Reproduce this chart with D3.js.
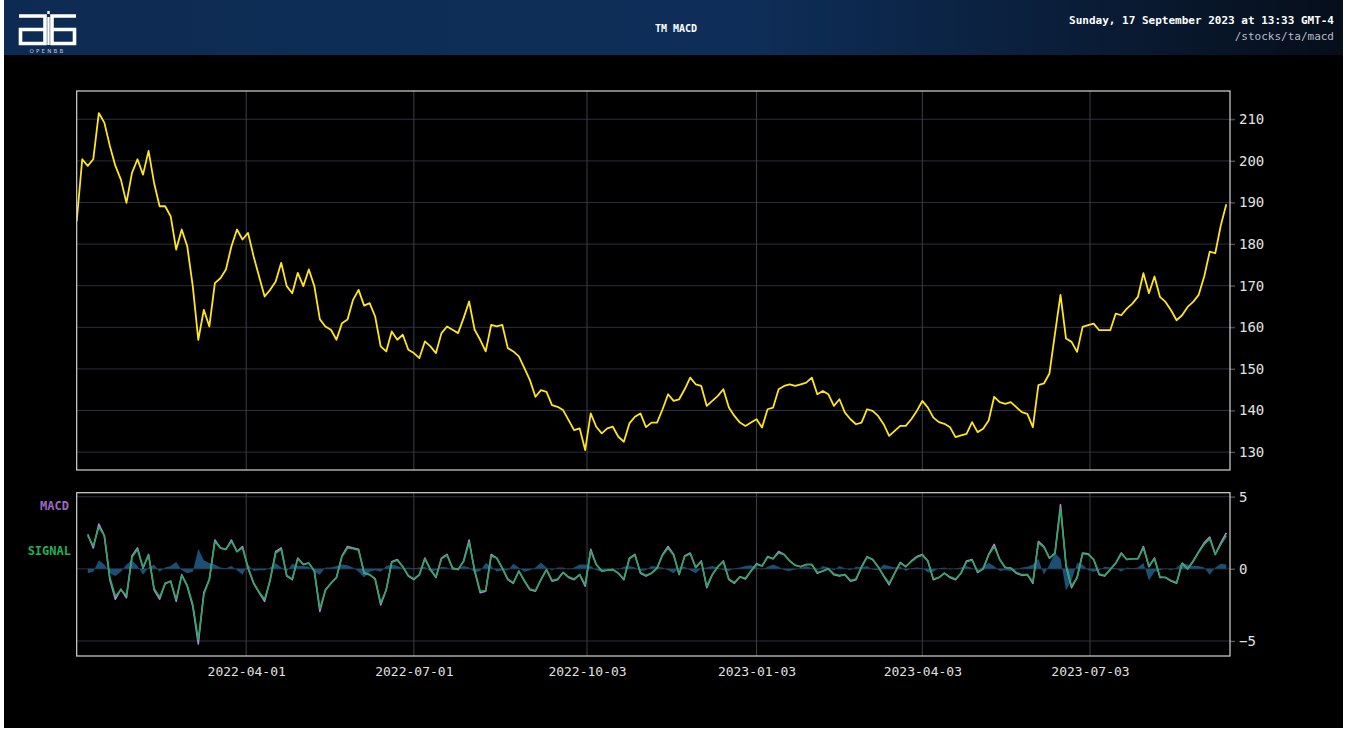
<!DOCTYPE html>
<html><head><meta charset="utf-8">
<script src="https://cdn.jsdelivr.net/npm/d3@7"></script>
<style>body{margin:0;background:#fff;} svg{display:block;}</style>
</head><body>
<svg id="c" width="1347" height="732"></svg>
<script>
// ---------- data ----------
const chartTitle = "TM MACD";
const dateLine = "Sunday, 17 September 2023 at 13:33 GMT-4";
const pathLine = "/stocks/ta/macd";
const priceStart = "2021-12-30";
const macdStart = "2022-01-05";
const stepDays = 3;
const xDomain = ["2021-12-30", "2023-09-17"];
const dateTicks = ["2022-04-01", "2022-07-01", "2022-10-03", "2023-01-03", "2023-04-03", "2023-07-03"];
const priceTicks = [130, 140, 150, 160, 170, 180, 190, 200, 210];
const macdTicks = [-5, 0, 5];
const legendLabels = ["MACD", "SIGNAL"];

const price = [
185.5,200.4,198.8,200.4,211.5,209.2,203.6,198.8,195.5,189.9,
197.1,200.4,196.7,202.4,194.7,189.1,189.1,186.7,178.7,183.5,
179.5,169.9,157.0,164.2,160.2,170.6,171.8,173.9,179.5,183.5,
181.1,182.7,177.1,172.2,167.4,169.0,171.0,175.5,169.9,168.2,
173.1,169.9,173.9,169.9,161.9,160.2,159.4,157.0,161.0,161.9,
166.6,169.0,165.2,165.8,162.6,155.4,154.2,159.0,157.0,158.2,
154.6,153.8,152.6,156.6,155.4,153.8,158.6,160.2,159.4,158.6,
162.2,166.2,159.4,157.0,154.2,160.6,160.2,160.6,155.0,154.2,
153.0,150.2,147.3,143.3,144.9,144.5,141.3,140.9,140.1,137.7,
135.3,135.7,130.5,139.3,136.1,134.5,135.7,136.1,133.7,132.5,
136.9,138.5,139.3,136.0,137.1,137.1,140.3,143.9,142.3,142.7,
145.1,147.9,146.3,145.9,141.1,142.3,143.5,145.1,140.7,138.7,
137.1,136.3,137.1,137.9,135.9,140.3,140.7,145.1,145.9,146.3,
145.9,146.3,146.7,147.9,143.9,144.7,143.9,141.1,142.7,139.5,
137.9,136.7,137.1,140.3,139.9,138.7,136.7,133.9,135.1,136.3,
136.3,137.9,139.9,142.3,140.7,138.3,137.2,136.8,136.0,133.6,
134.0,134.4,137.2,134.8,135.6,137.6,143.3,142.0,141.6,142.0,
140.8,139.6,139.2,136.0,146.1,146.5,148.9,158.5,167.8,157.3,
156.5,154.1,160.1,160.5,160.9,159.3,159.3,159.3,163.3,162.9,
164.5,165.7,167.3,173.0,168.2,172.2,167.3,166.1,164.1,161.7,
162.9,164.9,166.1,167.8,172.2,178.2,177.8,184.5,189.6
];

const macd = [
2.4,1.45,3.1,2.3,-0.75,-2.1,-1.4,-2.0,0.9,1.45,
0.05,1.0,-1.45,-2.1,-1.0,-0.85,-2.25,-0.4,-1.2,-2.6,
-5.2,-1.65,-0.75,2.0,1.45,1.35,2.0,1.2,1.55,0.05,
-1.0,-1.65,-2.25,-0.75,1.2,1.45,-0.5,-0.75,0.75,0.3,
0.4,-0.15,-2.95,-1.45,-1.0,-0.6,0.9,1.55,1.45,1.35,
-0.3,-0.4,-0.7,-2.5,-1.45,0.5,0.65,0.15,-0.5,-0.75,
-0.4,0.75,-0.05,-0.6,0.75,1.0,0.05,-0.05,0.55,2.0,
-0.15,-1.65,-1.55,1.0,0.75,0.05,-0.75,-1.0,-0.15,-0.85,
-1.45,-1.55,-0.75,-0.05,-0.85,-0.75,-0.25,-0.6,-0.75,-0.4,
-1.2,1.35,0.3,-0.15,-0.1,-0.05,-0.3,-0.75,0.75,1.0,
-0.3,-0.5,-0.3,0.05,1.0,1.55,1.0,-0.4,0.9,1.1,
0.1,0.55,-1.3,-0.4,0.15,0.55,-0.75,-1.0,-0.55,-0.7,
-0.15,0.35,0.2,0.85,0.7,1.2,1.0,0.55,0.25,0.15,
0.3,0.3,-0.3,-0.15,0,-0.4,-0.5,-0.4,-0.85,-0.75,
0.15,0.85,0.65,0.15,-0.5,-1.1,-0.3,0.45,0.15,0.55,
0.85,1.0,0.55,-0.75,-0.6,-0.3,-0.6,-0.75,-0.3,0.55,
0.65,-0.25,0,1.0,1.7,0.65,0.1,0.05,-0.3,-0.45,
-0.4,-1.0,1.9,1.55,0.75,1.1,4.45,0.2,-1.3,-0.6,
1.1,1.05,0.65,-0.4,-0.5,-0.05,0.4,1.1,0.65,0.7,
0.7,1.55,0.15,0.75,-0.6,-0.6,-0.85,-1.0,0.4,0,
0.55,1.2,1.8,2.2,1.0,1.8,2.5
];

const signal = [
2.3,1.6,2.9,2.3,-0.6,-1.9,-1.45,-1.85,0.8,1.35,
0.1,0.95,-1.35,-1.95,-1.05,-0.85,-2.1,-0.45,-1.15,-2.45,
-4.9,-1.8,-0.7,1.9,1.45,1.35,1.9,1.2,1.45,0.1,
-0.95,-1.6,-2.1,-0.8,1.1,1.35,-0.45,-0.7,0.7,0.3,
0.4,-0.15,-2.75,-1.5,-1.0,-0.6,0.85,1.45,1.4,1.3,
-0.25,-0.4,-0.7,-2.35,-1.45,0.45,0.6,0.15,-0.45,-0.7,
-0.4,0.7,-0.05,-0.55,0.7,0.95,0.05,-0.05,0.5,1.85,
-0.1,-1.55,-1.5,0.9,0.75,0.05,-0.7,-0.95,-0.15,-0.8,
-1.4,-1.5,-0.75,-0.05,-0.8,-0.7,-0.25,-0.55,-0.7,-0.4,
-1.1,1.25,0.3,-0.15,-0.1,-0.05,-0.3,-0.7,0.7,0.95,
-0.25,-0.45,-0.3,0.05,0.95,1.45,0.95,-0.35,0.85,1.05,
0.1,0.5,-1.2,-0.4,0.15,0.5,-0.7,-0.95,-0.55,-0.65,
-0.15,0.3,0.2,0.8,0.7,1.1,1.0,0.55,0.25,0.15,
0.3,0.3,-0.25,-0.15,0,-0.35,-0.45,-0.4,-0.8,-0.7,
0.1,0.8,0.65,0.15,-0.45,-1.0,-0.3,0.4,0.15,0.5,
0.8,0.95,0.55,-0.7,-0.6,-0.3,-0.55,-0.7,-0.3,0.5,
0.6,-0.2,0,0.95,1.55,0.65,0.1,0.05,-0.25,-0.4,
-0.4,-0.9,1.8,1.5,0.75,1.05,4.2,0.3,-1.2,-0.6,
1.05,1.0,0.65,-0.35,-0.45,-0.05,0.4,1.05,0.65,0.7,
0.7,1.45,0.2,0.7,-0.55,-0.6,-0.8,-0.95,0.35,0,
0.5,1.15,1.7,2.1,1.0,1.7,2.3
];

const hist = [
-0.3,-0.2,0.6,0.3,-0.3,-0.5,-0.2,0.3,0.6,0.2,
-0.4,0.1,0.3,-0.2,0.1,0.2,0.5,-0.1,-0.3,-0.2,
1.4,0.6,0.4,0.3,0.1,0.05,0.2,-0.1,-0.4,0.3,
-0.15,-0.1,-0.1,0.1,0.4,0.1,-0.2,0.35,0.2,0.2,
0.15,-0.2,-0.4,0.1,0.1,0.2,0.3,0.25,0.1,-0.2,
-0.6,-0.2,-0.1,-0.2,0.2,0.3,0.2,0.05,0.1,0.05,
0.1,0.15,-0.2,-0.1,0.15,0.1,-0.1,0.05,0.2,0.1,
-0.25,-0.15,0.4,0.2,-0.2,-0.1,-0.1,0.35,0.1,-0.2,
-0.1,0.1,0.45,0.1,-0.1,0.1,0.1,-0.05,0.1,0.3,
0.3,0.2,-0.1,-0.2,0.05,0.05,-0.05,0.15,0.2,0.1,
-0.15,-0.1,0.2,0.15,0.1,-0.1,-0.3,0.1,0.15,-0.1,
-0.3,0.05,0.1,0.2,0.1,-0.1,-0.15,0.05,0.1,0.2,
0.25,0.1,-0.05,0.15,0.3,0.15,-0.1,-0.15,-0.05,0.05,
0.2,0.05,-0.1,0.2,0.1,-0.1,0.2,0.05,-0.1,0.15,
0.1,0.2,-0.05,-0.1,0.3,0.2,0.1,0.15,-0.15,0.05,
0.1,0.05,-0.25,-0.2,0.05,0.1,-0.05,0.05,0.1,0.2,
0.05,-0.1,0.15,0.4,0.2,-0.15,-0.1,-0.15,-0.05,0.1,
0.15,0.3,0.7,-0.4,0.3,1.1,0.7,-1.5,-0.8,0.4,
0.3,-0.1,-0.2,-0.1,0.15,0.1,0.05,-0.2,0.1,0.05,
0.1,0.4,-0.8,-0.2,-0.1,0.05,-0.1,0.1,0.4,0.3,
0.2,0.2,0.1,-0.4,0.1,0.35,0.3
];

// ---------- layout ----------
const W = 1347, H = 732;
const plotL = 76.7, plotR = 1230;
const priceTop = 91, priceBot = 470;
const macdTop = 492.7, macdBot = 656;

const parse = d3.utcParse("%Y-%m-%d");
const svg = d3.select("#c");

svg.append("rect").attr("x", 0).attr("y", 0).attr("width", W).attr("height", H).attr("fill", "#ffffff");
svg.append("rect").attr("x", 4).attr("y", 0).attr("width", W - 8).attr("height", H - 4).attr("fill", "#000000");

// header
const defs = svg.append("defs");
const grad = defs.append("linearGradient").attr("id", "hdr").attr("x1", "0").attr("x2", "1").attr("y1", "0").attr("y2", "0");
grad.append("stop").attr("offset", "0%").attr("stop-color", "#0d2b52");
grad.append("stop").attr("offset", "55%").attr("stop-color", "#0e2e59");
grad.append("stop").attr("offset", "80%").attr("stop-color", "#0a1d38");
grad.append("stop").attr("offset", "100%").attr("stop-color", "#060e1a");
svg.append("rect").attr("x", 4).attr("y", 0).attr("width", W - 8).attr("height", 55).attr("fill", "url(#hdr)");

// logo
const logo = svg.append("g").attr("fill", "none").attr("stroke", "#ffffff").attr("stroke-width", 3.6);
logo.append("path").attr("d", "M19,16 H45 V43.5 H20.5 V29.5 H45");
logo.append("path").attr("d", "M76,16 H52 V43.5 H74.5 V29.5 H52");
svg.append("rect").attr("x", 47.3).attr("y", 11).attr("width", 2.4).attr("height", 3).attr("fill", "#ffffff");
svg.append("rect").attr("x", 47.3).attr("y", 17).attr("width", 2.4).attr("height", 28).attr("fill", "#ffffff");
svg.append("text").attr("x", 47.5).attr("y", 53).attr("text-anchor", "middle")
  .attr("font-family", "DejaVu Sans").attr("font-size", 5.5).attr("letter-spacing", 2.2)
  .attr("fill", "#c8ced8").text("OPENBB");

svg.append("text").attr("x", 676).attr("y", 32).attr("text-anchor", "middle")
  .attr("font-family", "DejaVu Sans Mono").attr("font-weight", "bold").attr("font-size", 10)
  .attr("fill", "#ffffff").text(chartTitle);
svg.append("text").attr("x", 1334).attr("y", 24).attr("text-anchor", "end")
  .attr("font-family", "DejaVu Sans Mono").attr("font-weight", "bold").attr("font-size", 11)
  .attr("fill", "#ffffff").text(dateLine);
svg.append("text").attr("x", 1334).attr("y", 40).attr("text-anchor", "end")
  .attr("font-family", "DejaVu Sans Mono").attr("font-size", 11)
  .attr("fill", "#b8bcc4").text(pathLine);

// scales
const x = d3.scaleUtc().domain(xDomain.map(parse)).range([plotL, plotR]);
const yP = d3.scaleLinear().domain([125.7, 216.8]).range([priceBot, priceTop]);
const yM = d3.scaleLinear().domain([-6.04, 5.28]).range([macdBot, macdTop]);

const p0 = parse(priceStart), m0 = parse(macdStart);
const priceData = price.map((v, i) => ({ d: d3.utcDay.offset(p0, i * stepDays), v }));
const macdData = macd.map((v, i) => ({ d: d3.utcDay.offset(m0, i * stepDays), v }));
const signalData = signal.map((v, i) => ({ d: d3.utcDay.offset(m0, i * stepDays), v }));
const histData = hist.map((v, i) => ({ d: d3.utcDay.offset(m0, i * stepDays), v }));

const tickDates = dateTicks.map(parse);
const mono = "DejaVu Sans Mono";

function panel(top, bot, y, ticks, fmt) {
  const g = svg.append("g");
  g.append("g").selectAll("line").data(ticks).join("line")
    .attr("x1", plotL).attr("x2", plotR + 5)
    .attr("y1", d => y(d)).attr("y2", d => y(d))
    .attr("stroke", "#2c2f38").attr("stroke-width", 1);
  g.append("g").selectAll("line").data(tickDates).join("line")
    .attr("x1", d => x(d)).attr("x2", d => x(d))
    .attr("y1", top).attr("y2", bot)
    .attr("stroke", "#3b3f49").attr("stroke-width", 1);
  const ax = d3.axisRight(y).tickValues(ticks).tickSize(5).tickPadding(4).tickFormat(fmt);
  const a = svg.append("g").attr("transform", `translate(${plotR},0)`).call(ax);
  a.select(".domain").remove();
  a.selectAll("line").attr("stroke", "#555a63");
  a.selectAll("text").attr("fill", "#e2e2e2").attr("font-family", mono).attr("font-size", 14);
  return g;
}

panel(priceTop, priceBot, yP, priceTicks, d3.format("d"));
panel(macdTop, macdBot, yM, macdTicks, d3.format("d"));

defs.append("clipPath").attr("id", "clipP").append("rect")
  .attr("x", plotL).attr("y", priceTop).attr("width", plotR - plotL).attr("height", priceBot - priceTop);
defs.append("clipPath").attr("id", "clipM").append("rect")
  .attr("x", plotL).attr("y", macdTop).attr("width", plotR - plotL).attr("height", macdBot - macdTop);

svg.append("path").datum(priceData).attr("clip-path", "url(#clipP)")
  .attr("fill", "none").attr("stroke", "#ffe617").attr("stroke-width", 1.8).attr("stroke-linejoin", "round")
  .attr("d", d3.line().x(d => x(d.d)).y(d => yP(d.v)));

svg.append("path").datum(histData).attr("clip-path", "url(#clipM)")
  .attr("fill", "#1f5279").attr("fill-opacity", 0.95)
  .attr("d", d3.area().x(d => x(d.d)).y0(yM(0)).y1(d => yM(d.v)));

svg.append("path").datum(macdData).attr("clip-path", "url(#clipM)")
  .attr("fill", "none").attr("stroke", "#b784e0").attr("stroke-width", 1.6).attr("stroke-linejoin", "round")
  .attr("d", d3.line().x(d => x(d.d)).y(d => yM(d.v)));
svg.append("path").datum(signalData).attr("clip-path", "url(#clipM)")
  .attr("fill", "none").attr("stroke", "#2aa862").attr("stroke-width", 1.6).attr("stroke-linejoin", "round")
  .attr("d", d3.line().x(d => x(d.d)).y(d => yM(d.v)));

[[priceTop, priceBot], [macdTop, macdBot]].forEach(([t, b]) => {
  svg.append("rect").attr("x", plotL).attr("y", t).attr("width", plotR - plotL).attr("height", b - t)
    .attr("fill", "none").attr("stroke", "#d4d4d4").attr("stroke-width", 1.2);
});

const xa = d3.axisBottom(x).tickValues(tickDates).tickSize(0).tickPadding(11).tickFormat(d3.utcFormat("%Y-%m-%d"));
const xg = svg.append("g").attr("transform", `translate(0,${macdBot})`).call(xa);
xg.select(".domain").remove();
xg.selectAll("text").attr("fill", "#e2e2e2").attr("font-family", mono).attr("font-size", 13);

svg.append("text").attr("x", 69).attr("y", 510).attr("text-anchor", "end")
  .attr("font-family", mono).attr("font-weight", "bold").attr("font-size", 12)
  .attr("fill", "#9d68c4").text(legendLabels[0]);
svg.append("text").attr("x", 71).attr("y", 555).attr("text-anchor", "end")
  .attr("font-family", mono).attr("font-weight", "bold").attr("font-size", 12)
  .attr("fill", "#1fb257").text(legendLabels[1]);
</script>
</body></html>
